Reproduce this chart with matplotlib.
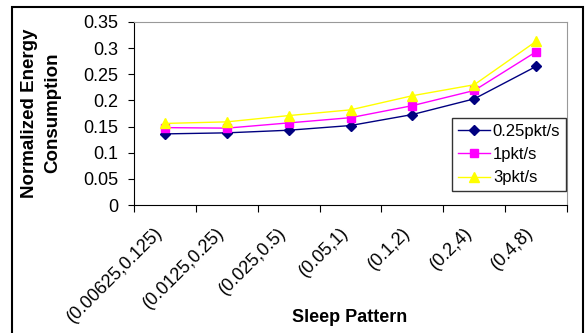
import matplotlib
matplotlib.use("Agg")
import matplotlib.pyplot as plt
import matplotlib.transforms as mtransforms
from matplotlib.patches import Rectangle

plt.rcParams.update({
    "font.family": ["Liberation Sans", "DejaVu Sans"],
    "font.size": 10,
})

categories = ["(0.00625,0.125)", "(0.0125,0.25)", "(0.025,0.5)", "(0.05,1)",
              "(0.1,2)", "(0.2,4)", "(0.4,8)"]
rate_025 = [0.136, 0.138, 0.143, 0.152, 0.173, 0.203, 0.265]
rate_1 = [0.148, 0.147, 0.157, 0.167, 0.190, 0.219, 0.293]
rate_3 = [0.156, 0.159, 0.171, 0.182, 0.209, 0.230, 0.313]
yticks = [0, 0.05, 0.1, 0.15, 0.2, 0.25, 0.3, 0.35]
ytick_labels = ["0", "0.05", "0.1", "0.15", "0.2", "0.25", "0.3", "0.35"]

fig = plt.figure(figsize=(5.85, 3.33), dpi=100)
W, H = 585, 333
ax = fig.add_axes([134 / W, 1 - 205 / H, (567 - 134) / W, (205 - 22) / H])

x = list(range(len(categories)))
ax.plot(x, rate_025, color="#000080", marker="D", markersize=5, linewidth=1.0,
        label="0.25pkt/s", zorder=3)
ax.plot(x, rate_1, color="#FF00FF", marker="s", markersize=5.5, linewidth=1.0,
        label="1pkt/s", zorder=3)
ax.plot(x, rate_3, color="#FFFF00", marker="^", markersize=7, linewidth=1.0,
        label="3pkt/s", zorder=3)

ax.set_xlim(-0.5, len(categories) - 0.5)
ax.set_ylim(0, 0.35)
ax.set_yticks(yticks)
ax.set_yticklabels(ytick_labels, fontsize=13)
ax.set_xticks([i - 0.5 for i in range(len(categories) + 1)])
ax.set_xticklabels([])
ax.set_xticks(x, minor=True)
ax.set_xticklabels(categories, minor=True, rotation=45, ha="right", va="center",
                   rotation_mode="anchor", fontsize=13)
ax.tick_params(axis="x", which="minor", length=0, pad=18)
ax.tick_params(axis="x", which="major", length=5, direction="out")
ax.tick_params(axis="y", length=4.5, direction="out", pad=7)
shift = mtransforms.ScaledTranslation(-5 / 100, 0, fig.dpi_scale_trans)
for lbl in ax.get_xticklabels(minor=True):
    lbl.set_transform(lbl.get_transform() + shift)

for s in ["top", "right"]:
    ax.spines[s].set_color("#999999")
for s in ["left", "bottom"]:
    ax.spines[s].set_color("black")

fig.text(350 / W, 1 - 318 / H, "Sleep Pattern", ha="center", va="center",
         fontsize=13, fontweight="bold")
fig.text(41 / W, 1 - 113 / H, "Normalized Energy\nConsumption", rotation=90,
         ha="center", va="center", fontsize=13.5, fontweight="bold",
         linespacing=1.45)

leg = ax.legend(loc="upper left", bbox_to_anchor=((452 - 134) / 433, (205 - 118) / 183),
                fontsize=12, frameon=True, fancybox=False, edgecolor="black",
                borderpad=0.35, handlelength=1.9, labelspacing=0.5,
                handletextpad=0.2, borderaxespad=0)
leg.get_frame().set_linewidth(1.0)

fig.patches.append(Rectangle((12 / W, -0.05), (583 - 12) / W, 1 - 7 / H + 0.05,
                             transform=fig.transFigure, fill=False,
                             edgecolor="black", linewidth=1.5))

fig.savefig("out.png", dpi=100)
